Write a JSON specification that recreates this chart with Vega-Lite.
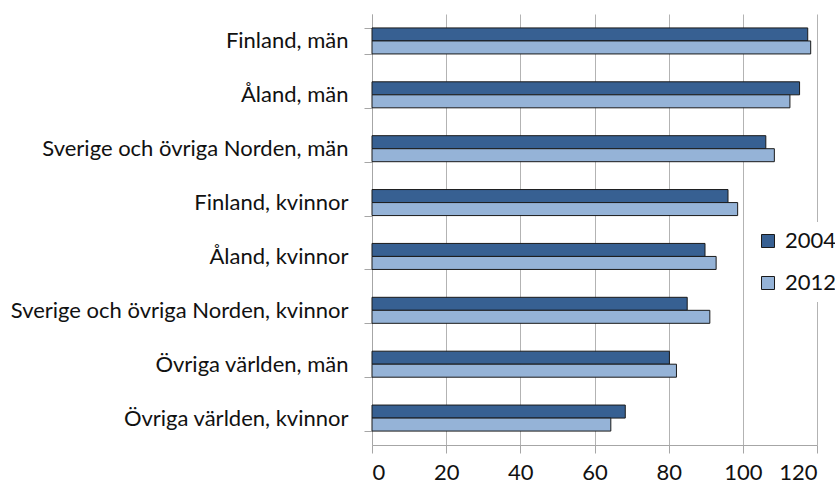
{
  "$schema": "https://vega.github.io/schema/vega-lite/v6.json",
  "width": 445,
  "height": 431,
  "autosize": {"type": "none"},
  "padding": {"left": 372, "top": 14, "right": 18, "bottom": 40},
  "background": "white",
  "config": {
    "view": {"stroke": null},
    "font": "Lato",
    "axis": {"labelFont": "Lato", "labelColor": "#111111"},
    "legend": {"labelFont": "Lato"}
  },
  "data": {
    "values": [
      {"group": "Finland, män", "year": "2004", "value": 117.5},
      {"group": "Finland, män", "year": "2012", "value": 118.3},
      {"group": "Åland, män", "year": "2004", "value": 115.3},
      {"group": "Åland, män", "year": "2012", "value": 112.7},
      {"group": "Sverige och övriga Norden, män", "year": "2004", "value": 106.2},
      {"group": "Sverige och övriga Norden, män", "year": "2012", "value": 108.5},
      {"group": "Finland, kvinnor", "year": "2004", "value": 96.0},
      {"group": "Finland, kvinnor", "year": "2012", "value": 98.6},
      {"group": "Åland, kvinnor", "year": "2004", "value": 89.8},
      {"group": "Åland, kvinnor", "year": "2012", "value": 92.8},
      {"group": "Sverige och övriga Norden, kvinnor", "year": "2004", "value": 85.0},
      {"group": "Sverige och övriga Norden, kvinnor", "year": "2012", "value": 91.1},
      {"group": "Övriga världen, män", "year": "2004", "value": 80.2},
      {"group": "Övriga världen, män", "year": "2012", "value": 82.1},
      {"group": "Övriga världen, kvinnor", "year": "2004", "value": 68.3},
      {"group": "Övriga världen, kvinnor", "year": "2012", "value": 64.4}
    ]
  },
  "mark": {"type": "bar", "stroke": "#1a1a1a", "strokeWidth": 1},
  "encoding": {
    "y": {
      "field": "group",
      "type": "nominal",
      "sort": null,
      "title": null,
      "scale": {"paddingInner": 0.517, "paddingOuter": 0.2585},
      "axis": {
        "tickBand": "extent",
        "domainColor": "#a6a6a6",
        "tickColor": "#a6a6a6",
        "tickSize": 8,
        "labelFontSize": 22,
        "labelPadding": 16,
        "labelLimit": 400,
        "grid": false
      }
    },
    "yOffset": {
      "field": "year",
      "type": "nominal",
      "sort": ["2004", "2012"],
      "scale": {"paddingInner": 0, "paddingOuter": 0}
    },
    "x": {
      "field": "value",
      "type": "quantitative",
      "title": null,
      "scale": {"domain": [0, 120], "nice": false},
      "axis": {
        "values": [0, 20, 40, 60, 80, 100, 120],
        "grid": true,
        "gridColor": "#b3b3b3",
        "gridWidth": 1,
        "domainColor": "#a6a6a6",
        "tickColor": "#a6a6a6",
        "tickSize": 8,
        "labelFontSize": 22,
        "labelPadding": 9
      }
    },
    "color": {
      "field": "year",
      "type": "nominal",
      "title": null,
      "scale": {"domain": ["2004", "2012"], "range": ["#376092", "#95b3d7"]},
      "legend": {
        "orient": "none",
        "legendX": 377,
        "legendY": 208,
        "fillColor": "white",
        "padding": 8,
        "symbolType": "square",
        "symbolSize": 169,
        "symbolStrokeColor": "#1a1a1a",
        "symbolStrokeWidth": 1,
        "symbolOpacity": 1,
        "labelFontSize": 22,
        "labelColor": "#111111",
        "labelOffset": 6,
        "rowPadding": 20
      }
    }
  }
}
